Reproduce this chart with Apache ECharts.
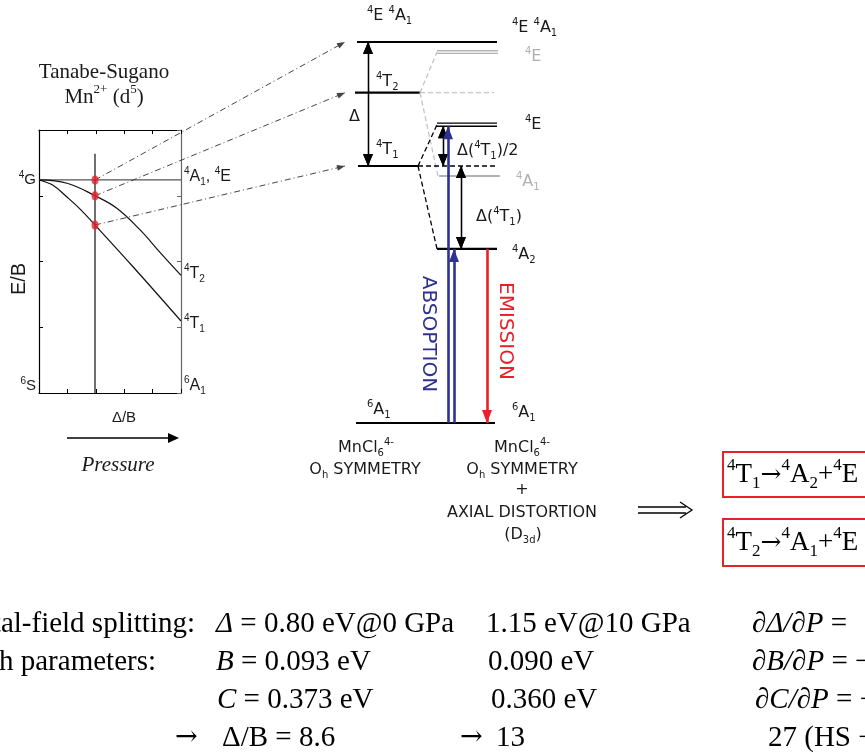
<!DOCTYPE html>
<html><head><meta charset="utf-8">
<script src="https://cdn.jsdelivr.net/npm/echarts@6/dist/echarts.min.js"></script>
<style>html,body{margin:0;padding:0;background:#fff}#c{width:865px;height:754px}</style>
</head><body><div id="c"></div>
<script>
// ================= DATA =================
// Tanabe-Sugano diagram, Mn2+ (d5): E/B versus Delta/B
const tsT1DeltaB = [0, 2.46, 4.93, 7.2, 9.86, 16.55, 25];
const tsT1E      = [32.4, 31.6, 29.8, 28.0, 25.55, 19.2, 10.95];
const tsT2DeltaB = [0, 4.93, 9.86, 13.7, 17.8, 21.3, 25];
const tsT2E      = [32.4, 31.9, 30.0, 28.1, 24.8, 21.4, 17.9];
const tsDeltaBRange = [0, 25];
const tsG4E = 32.4;                 // 4G -> 4A1, 4E (flat)
const tsCursorDeltaB = 9.86;        // marked Delta/B
const tsCursorTopE = 36.4;
const tsDotE = [32.4, 30.0, 25.55]; // 4A1/4E, 4T2, 4T1 at the cursor

// Energy-level scheme (arbitrary energy units, 6A1 = 0)
const ohNames = ['4E 4A1', '4T2', '4T1', '6A1'];
const ohE     = [100, 86.7, 67.45, 0];
const d3dNames = ['4E (from 4T2)', '4E (from 4T1)', '4A1 (from 4T2)', '4A2 (from 4T1)'];
const d3dE     = [97.35, 78.3, 64.8, 45.7];

// ================= LAYOUT (pixels) =================
const X = {ohL:357, ohR:420, d3L:437, d3R:497, conn:345,
           arrD:368, arrHalf:443, arrT1:461, abs1:448, abs2:454, emi:487};
const BLUE = '#2e3192', RED = '#e8202a', GREY = '#b3b3b3';

const series = [];
function seg(pts, color, width, type, g) {
  g = g == null ? 2 : g;
  series.push({type:'line', xAxisIndex:g, yAxisIndex:g, data:pts, symbol:'none', silent:true,
    z:3, lineStyle:{color:color, width:width, type:type || 'solid', cap:'butt'}});
}
function arrowEnd(x, e, size, w) {
  return {coord:[x, e], symbol:'triangle', symbolSize:[w, size], symbolOffset:[0, size/2]};
}
function arrows(list, color, width) {
  series.push({type:'line', xAxisIndex:2, yAxisIndex:2, data:[], symbol:'none', silent:true, z:5,
    markLine:{silent:true, animation:false, label:{show:false}, lineStyle:{color:color, width:width, type:'solid'},
      data:list}});
}

// ---- Tanabe-Sugano series ----
series.push({type:'line', xAxisIndex:0, yAxisIndex:0, symbol:'none', silent:true,
  data: tsDeltaBRange.map(x => [x, tsG4E]), lineStyle:{color:'#555', width:1.2}});
series.push({type:'line', xAxisIndex:0, yAxisIndex:0, symbol:'none', silent:true, smooth:0.4,
  data: tsT2DeltaB.map((x,i) => [x, tsT2E[i]]), lineStyle:{color:'#111', width:1.2}});
series.push({type:'line', xAxisIndex:0, yAxisIndex:0, symbol:'none', silent:true, smooth:0.4,
  data: tsT1DeltaB.map((x,i) => [x, tsT1E[i]]), lineStyle:{color:'#111', width:1.2}});
series.push({type:'line', xAxisIndex:0, yAxisIndex:0, symbol:'none', silent:true,
  data: [[tsCursorDeltaB, 0], [tsCursorDeltaB, tsCursorTopE]], lineStyle:{color:'#111', width:1.2}});
series.push({type:'scatter', xAxisIndex:0, yAxisIndex:0, silent:true, z:8, symbol:'circle', symbolSize:[7,9],
  itemStyle:{color:RED}, data: tsDotE.map(e => [tsCursorDeltaB, e])});

// ---- Oh levels ----
seg([[X.ohL, ohE[0]], [X.d3R, ohE[0]]], '#000', 2.2);
seg([[X.ohL-2, ohE[1]], [X.ohR, ohE[1]]], '#000', 2.2);
seg([[X.ohL+1, ohE[2]], [X.ohR-2, ohE[2]]], '#000', 2.2);
seg([[X.ohL-1, ohE[3]], [X.d3R-2, ohE[3]]], '#000', 2.2);
// ---- D3d levels ----
seg([[X.d3L, d3dE[0]+0.35], [X.d3R+1, d3dE[0]+0.35]], GREY, 1.3);
seg([[X.d3L, d3dE[0]-0.35], [X.d3R+1, d3dE[0]-0.35]], GREY, 1.3);
seg([[X.d3L, d3dE[1]+0.4], [X.d3R, d3dE[1]+0.4]], '#000', 1.4);
seg([[X.d3L, d3dE[1]-0.4], [X.d3R, d3dE[1]-0.4]], '#000', 1.4);
seg([[X.d3L+2, d3dE[2]], [X.d3R+3, d3dE[2]]], GREY, 2);
seg([[X.d3L, d3dE[3]], [X.d3R, d3dE[3]]], '#000', 2.2);
// correlation (dashed)
seg([[X.ohR, ohE[1]], [X.d3L, d3dE[0]]], '#c4c4c4', 1.3, [5,3]);
seg([[X.ohR, ohE[1]], [X.d3R-3, ohE[1]]], '#c4c4c4', 1.3, [5,3]);
seg([[X.ohR, ohE[1]], [X.d3L+1, d3dE[2]]], '#c4c4c4', 1.3, [5,3]);
seg([[X.ohR-2, ohE[2]], [X.d3L, d3dE[1]]], '#000', 1.3, [5,3]);
seg([[X.ohR-2, ohE[2]], [X.d3R, ohE[2]]], '#000', 1.3, [5,3]);
seg([[X.ohR-2, ohE[2]], [X.d3L, d3dE[3]]], '#000', 1.3, [5,3]);

// ---- arrows ----
arrows([
  [arrowEnd(X.arrD, ohE[2], 12, 10), arrowEnd(X.arrD, ohE[0], 12, 10)],
  [arrowEnd(X.arrD, ohE[0], 12, 10), arrowEnd(X.arrD, ohE[2], 12, 10)],
  [arrowEnd(X.arrHalf, ohE[2], 12, 10), arrowEnd(X.arrHalf, d3dE[1]-0.4, 12, 10)],
  [arrowEnd(X.arrHalf, d3dE[1]-0.4, 12, 10), arrowEnd(X.arrHalf, ohE[2], 12, 10)],
  [arrowEnd(X.arrT1, d3dE[3], 12, 10), arrowEnd(X.arrT1, ohE[2], 12, 10)],
  [arrowEnd(X.arrT1, ohE[2], 12, 10), arrowEnd(X.arrT1, d3dE[3], 12, 10)]
], '#000', 1.3);
arrows([
  [{coord:[X.abs1, ohE[3]], symbol:'none'}, arrowEnd(X.abs1, d3dE[1]-0.4, 13, 10)],
  [{coord:[X.abs2, ohE[3]], symbol:'none'}, arrowEnd(X.abs2, d3dE[3], 13, 10)]
], BLUE, 2.6);
arrows([
  [{coord:[X.emi, d3dE[3]], symbol:'none'}, arrowEnd(X.emi, ohE[3], 13, 10)]
], RED, 2.6);

// ================= TEXT =================
function rt(s){ return s.replace(/\^\{([^}]*)\}/g,'{sup|$1}').replace(/_\{([^}]*)\}/g,'{sub|$1}')
  .replace(/\*\{([^}]*)\}/g,'{it|$1}').replace(/~\{([^}]*)\}/g,'{ar|$1}'); }
function txt(x, y, s, o) {
  o = o || {};
  const size = o.size || 16, fam = o.fam || 'DejaVu Sans', fill = o.fill || '#1a1a1a';
  const ss = Math.round(size * 0.64), lh = Math.round(size * 1.3);
  return {type:'text', x:x, y:y, rotation:o.rot || 0, z:10, silent:true,
    style:{text: rt(s), fill:fill, fontSize:size, fontFamily:fam, fontStyle:o.italic ? 'italic' : 'normal',
      align:o.align || 'left', verticalAlign:'middle', lineHeight:lh,
      rich:{ sup:{fontSize:ss, fontFamily:fam, fill:fill, verticalAlign:'top', lineHeight:ss+1},
             sub:{fontSize:ss, fontFamily:fam, fill:fill, verticalAlign:'bottom', lineHeight:ss+1},
             it:{fontSize:size, fontFamily:fam, fill:fill, fontStyle:'italic', lineHeight:lh},
             ar:{fontSize:Math.round(size*0.92), fontFamily:'DejaVu Serif', fill:fill, lineHeight:lh} }}};
}
const SANS = 'Liberation Sans', SERIF = 'Liberation Serif', GOTH = 'DejaVu Sans';
const TB = {fam:SERIF, size:29, fill:'#000'};
const graphics = [
  // Tanabe-Sugano
  txt(104, 72, 'Tanabe-Sugano', {size:21, fam:SERIF, align:'center'}),
  txt(104, 97, 'Mn^{2+} (d^{5})', {size:21, fam:SERIF, align:'center'}),
  txt(36, 180, '^{4}G', {size:15, fam:SANS, align:'right'}),
  txt(36, 386, '^{6}S', {size:15, fam:SANS, align:'right'}),
  txt(19, 279, 'E/B', {size:20, fam:SANS, align:'center', rot:Math.PI/2}),
  txt(184, 177, '^{4}A_{1}, ^{4}E', {size:16, fam:SANS}),
  txt(184, 274, '^{4}T_{2}', {size:16, fam:SANS}),
  txt(184, 324, '^{4}T_{1}', {size:16, fam:SANS}),
  txt(184, 386, '^{6}A_{1}', {size:16, fam:SANS}),
  txt(124, 418, 'Δ/B', {size:15, fam:SANS, align:'center'}),
  txt(118, 465, 'Pressure', {size:21, fam:SERIF, align:'center', italic:true}),
  {type:'line', silent:true, shape:{x1:67, y1:438, x2:170, y2:438}, style:{stroke:'#000', lineWidth:1.6}},
  {type:'polygon', silent:true, shape:{points:[[168,433],[179,438],[168,443]]}, style:{fill:'#000'}},
  // level scheme labels
  txt(367, 16, '^{4}E ^{4}A_{1}', {fam:GOTH}),
  txt(512, 28, '^{4}E ^{4}A_{1}', {fam:GOTH}),
  txt(525, 57, '^{4}E', {fam:GOTH, fill:'#b0b0b0'}),
  txt(525, 125, '^{4}E', {fam:GOTH}),
  txt(457, 151, 'Δ(^{4}T_{1})/2', {fam:GOTH}),
  txt(516, 182, '^{4}A_{1}', {fam:GOTH, fill:'#b0b0b0'}),
  txt(476, 217, 'Δ(^{4}T_{1})', {fam:GOTH}),
  txt(512, 255, '^{4}A_{2}', {fam:GOTH}),
  txt(349, 117, 'Δ', {fam:GOTH}),
  txt(376, 82, '^{4}T_{2}', {fam:GOTH}),
  txt(376, 150, '^{4}T_{1}', {fam:GOTH}),
  txt(367, 410, '^{6}A_{1}', {fam:GOTH}),
  txt(512, 413, '^{6}A_{1}', {fam:GOTH}),
  txt(428, 334, 'ABSOPTION', {fam:GOTH, size:20, fill:BLUE, align:'center', rot:-Math.PI/2}),
  txt(505, 331, 'EMISSION', {fam:GOTH, size:20, fill:RED, align:'center', rot:-Math.PI/2}),
  txt(366, 448, 'MnCl_{6}^{4-}', {fam:GOTH, size:16, align:'center'}),
  txt(365, 470, 'O_{h} SYMMETRY', {fam:GOTH, size:16, align:'center'}),
  txt(522, 448, 'MnCl_{6}^{4-}', {fam:GOTH, size:16, align:'center'}),
  txt(522, 470, 'O_{h} SYMMETRY', {fam:GOTH, size:16, align:'center'}),
  txt(522, 490, '+', {fam:GOTH, size:16, align:'center'}),
  txt(522, 513, 'AXIAL DISTORTION', {fam:GOTH, size:16, align:'center'}),
  txt(523, 535, '(D_{3d})', {fam:GOTH, size:16, align:'center'}),
  // implication arrow and boxes
  {type:'line', silent:true, shape:{x1:638, y1:507, x2:686, y2:507}, style:{stroke:'#000', lineWidth:1.3}},
  {type:'line', silent:true, shape:{x1:638, y1:513, x2:686, y2:513}, style:{stroke:'#000', lineWidth:1.3}},
  {type:'polyline', silent:true, shape:{points:[[680,502],[692,510],[680,518]]}, style:{stroke:'#000', lineWidth:1.3, fill:null}},
  {type:'rect', silent:true, shape:{x:723, y:452, width:200, height:45}, style:{fill:null, stroke:RED, lineWidth:2}},
  {type:'rect', silent:true, shape:{x:723, y:519, width:200, height:47}, style:{fill:null, stroke:RED, lineWidth:2}},
  txt(727, 475, '^{4}T_{1}~{→}^{4}A_{2}+^{4}E', {fam:SERIF, size:27, fill:'#000'}),
  txt(727, 543, '^{4}T_{2}~{→}^{4}A_{1}+^{4}E', {fam:SERIF, size:27, fill:'#000'}),
  // parameter table
  txt(195, 624, 'Crystal-field splitting:', Object.assign({align:'right'}, TB)),
  txt(216, 624, '*{Δ} = 0.80 eV@0 GPa', TB),
  txt(486, 624, '1.15 eV@10 GPa', TB),
  txt(752, 624, '*{∂Δ/∂P} =', TB),
  txt(156, 662, 'Racah parameters:', Object.assign({align:'right'}, TB)),
  txt(216, 662, '*{B} = 0.093 eV', TB),
  txt(488, 662, '0.090 eV', TB),
  txt(752, 662, '*{∂B/∂P} = −', TB),
  txt(217, 700, '*{C} = 0.373 eV', TB),
  txt(491, 700, '0.360 eV', TB),
  txt(755, 700, '*{∂C/∂P} = −', TB),
  txt(175, 738, '~{→}', TB),
  txt(222, 738, 'Δ/B = 8.6', TB),
  txt(460, 738, '~{→}', TB),
  txt(496, 738, '13', TB),
  txt(768, 738, '27 (HS −', TB)
];

function tsAxis(pos, isX, color) {
  return {gridIndex:0, type:'value', position:pos, min:0, max:isX ? 25 : 40, interval:isX ? 5 : 10,
    axisLine:{show:true, onZero:false, lineStyle:{color:color, width:1.2}},
    axisTick:{show:true, inside:true, length:4, lineStyle:{color:color}},
    axisLabel:{show:false}, splitLine:{show:false}};
}
const option = {
  animation:false,
  backgroundColor:'#fff',
  grid:[
    {left:39, top:130, width:142, height:263},
    {left:0, top:42, width:865, height:381}
  ],
  xAxis:[tsAxis('bottom', true, '#000'), tsAxis('top', true, '#000'),
    {gridIndex:1, type:'value', min:0, max:865, show:false}],
  yAxis:[tsAxis('left', false, '#000'), tsAxis('right', false, '#666'),
    {gridIndex:1, type:'value', min:0, max:100, show:false}],
  series:series,
  graphic:graphics
};
const chart = echarts.init(document.getElementById('c'));
chart.setOption(option);

// dash-dot correlation lines from the Tanabe-Sugano points to the Oh levels
const connData = tsDotE.map((e, i) => {
  const p1 = chart.convertToPixel({gridIndex:0}, [tsCursorDeltaB, e]);
  const p2 = chart.convertToPixel({gridIndex:1}, [X.conn, ohE[i]]);
  return [{x:p1[0], y:p1[1], symbol:'none'},
          {x:p2[0], y:p2[1], symbol:'triangle', symbolSize:[6, 8], symbolOffset:[0, 4]}];
});
series.push({type:'line', xAxisIndex:2, yAxisIndex:2, data:[], symbol:'none', silent:true, z:4,
  markLine:{silent:true, animation:false, label:{show:false},
    lineStyle:{color:'#444', width:1, type:[6,3,1,3]}, data:connData}});
chart.setOption({series:series});
</script></body></html>
